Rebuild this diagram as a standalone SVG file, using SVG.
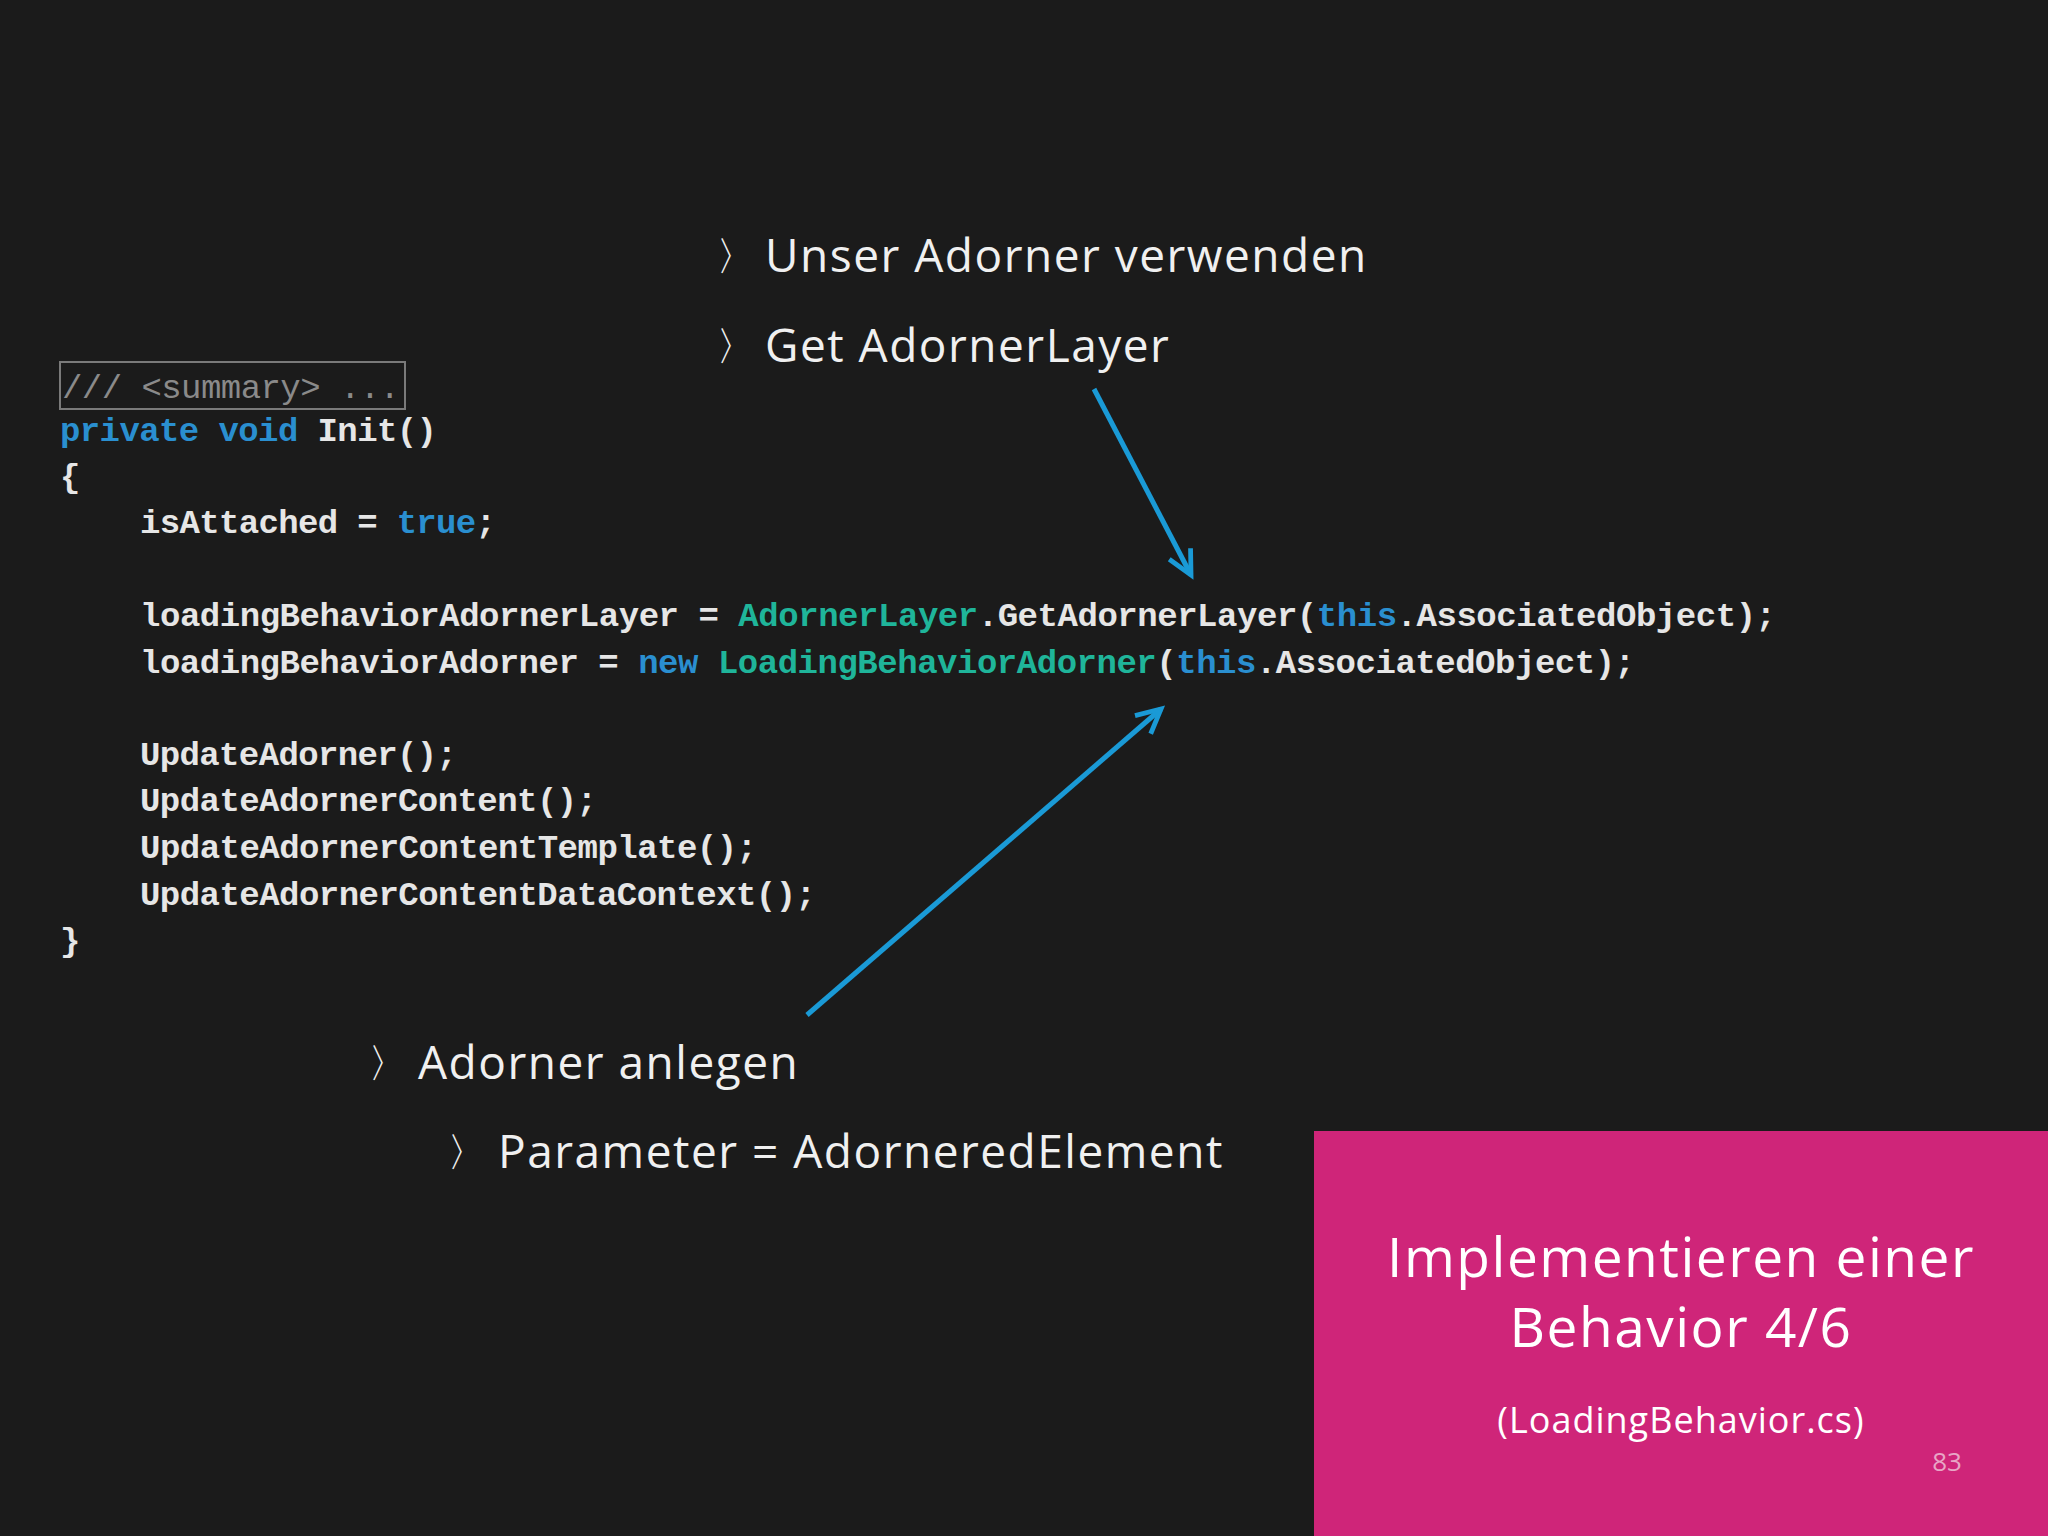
<svg xmlns="http://www.w3.org/2000/svg" width="2048" height="1536" viewBox="0 0 2048 1536">
<defs>
<style>
.b{font-family:"Open Sans","Noto Sans",sans-serif;font-size:46px;fill:#f0f0f0;letter-spacing:1.5px}
.ch{font-family:"DejaVu Sans",sans-serif;font-size:40px;fill:#f0f0f0}
.c{font-family:"Liberation Mono","DejaVu Sans Mono",monospace;font-size:34px;fill:#e6e6e6;font-weight:bold}
.k{fill:#2a8fd0}.t{fill:#1fb59a}
.w{font-family:"Open Sans","Noto Sans",sans-serif;fill:#ffffff;text-anchor:middle}
</style>
<marker id="ah" viewBox="0 0 20 20" refX="18" refY="10" markerWidth="30" markerHeight="30" markerUnits="userSpaceOnUse" orient="auto" overflow="visible">
<polyline points="2,2 18,10 2,18" fill="none" stroke="#1a9ad6" stroke-width="3.2"/>
</marker>
</defs>
<rect width="2048" height="1536" fill="#1b1b1b"/>
<g id="bullets">
<text class="ch" x="716" y="270">〉</text><text class="b" x="765" y="272">Unser Adorner verwenden</text>
<text class="ch" x="716" y="360">〉</text><text class="b" x="765" y="362">Get AdornerLayer</text>
<text class="ch" x="368" y="1077">〉</text><text class="b" x="418" y="1079">Adorner anlegen</text>
<text class="ch" x="447" y="1166">〉</text><text class="b" x="498" y="1168">Parameter = AdorneredElement</text>
</g>
<g id="code">
<rect x="60" y="362" width="345" height="47" fill="none" stroke="#7a7a7a" stroke-width="2"/>
<text class="c" x="62" y="398" style="fill:#8a8a8a;font-weight:normal" textLength="338">/// &lt;summary&gt; ...</text>
<text class="c" x="60" y="441" textLength="377"><tspan class="k">private void</tspan> Init()</text>
<text class="c" x="60" y="487">{</text>
<text class="c" x="140" y="533" textLength="356">isAttached = <tspan class="k">true</tspan>;</text>
<text class="c" x="140" y="626" textLength="1636">loadingBehaviorAdornerLayer = <tspan class="t">AdornerLayer</tspan>.GetAdornerLayer(<tspan class="k">this</tspan>.AssociatedObject);</text>
<text class="c" x="140" y="673" textLength="1495">loadingBehaviorAdorner = <tspan class="k">new</tspan> <tspan class="t">LoadingBehaviorAdorner</tspan>(<tspan class="k">this</tspan>.AssociatedObject);</text>
<text class="c" x="140" y="765" textLength="317">UpdateAdorner();</text>
<text class="c" x="140" y="811" textLength="457">UpdateAdornerContent();</text>
<text class="c" x="140" y="858" textLength="617">UpdateAdornerContentTemplate();</text>
<text class="c" x="140" y="905" textLength="676">UpdateAdornerContentDataContext();</text>
<text class="c" x="60" y="951">}</text>
</g>
<g id="connectors" stroke="#1a9ad6" stroke-width="5" fill="none" marker-end="url(#ah)">
<line x1="1094" y1="389" x2="1191" y2="575"/>
<line x1="807" y1="1015" x2="1161" y2="709"/>
</g>
<g id="title">
<rect x="1314" y="1131" width="734" height="405" fill="#cf2579"/>
<text class="w" x="1681" y="1277" font-size="55" letter-spacing="1.5">Implementieren einer</text>
<text class="w" x="1681" y="1347" font-size="55" letter-spacing="1.5">Behavior 4/6</text>
<text class="w" x="1681" y="1433" font-size="36" letter-spacing="1">(LoadingBehavior.cs)</text>
<text class="w" x="1947" y="1471" font-size="26" style="fill:#e8a6c6">83</text>
</g>
</svg>
